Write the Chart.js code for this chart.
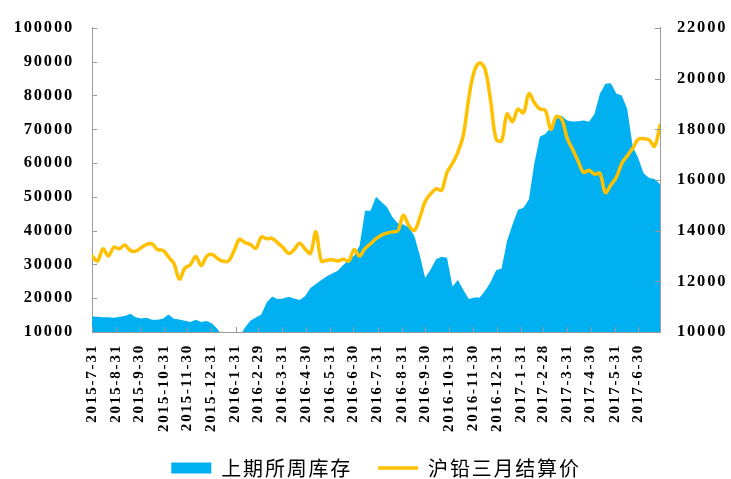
<!DOCTYPE html>
<html>
<head>
<meta charset="utf-8">
<script src="https://cdn.jsdelivr.net/npm/chart.js@4/dist/chart.umd.min.js"></script>
<style>
    html, body { margin: 0; padding: 0; background: #fff; }
    #chart { display: block; }
</style>
</head>
<body>
<canvas id="chart" width="731" height="479"></canvas>
<script>
// weekly dates (SHFE inventory release days)
const weeks = [
    "2015-7-31","2015-8-7","2015-8-14","2015-8-21","2015-8-28","2015-9-4","2015-9-11","2015-9-18","2015-9-25",
    "2015-10-2","2015-10-9","2015-10-16","2015-10-23","2015-10-30","2015-11-6","2015-11-13","2015-11-20","2015-11-27",
    "2015-12-4","2015-12-11","2015-12-18","2015-12-25",
    "2016-1-1","2016-1-8","2016-1-15","2016-1-22","2016-1-29","2016-2-5","2016-2-12","2016-2-19","2016-2-26",
    "2016-3-4","2016-3-11","2016-3-18","2016-3-25","2016-4-1","2016-4-8","2016-4-15","2016-4-22","2016-4-29",
    "2016-5-6","2016-5-13","2016-5-20","2016-5-27","2016-6-3","2016-6-10","2016-6-17","2016-6-24",
    "2016-7-1","2016-7-8","2016-7-15","2016-7-22","2016-7-29","2016-8-5","2016-8-12","2016-8-19","2016-8-26",
    "2016-9-2","2016-9-9","2016-9-16","2016-9-23","2016-9-30","2016-10-7","2016-10-14","2016-10-21","2016-10-28",
    "2016-11-4","2016-11-11","2016-11-18","2016-11-25","2016-12-2","2016-12-9","2016-12-16","2016-12-23","2016-12-30",
    "2017-1-6","2017-1-13","2017-1-20","2017-1-27","2017-2-3","2017-2-10","2017-2-17","2017-2-24",
    "2017-3-3","2017-3-10","2017-3-17","2017-3-24","2017-3-31","2017-4-7","2017-4-14","2017-4-21","2017-4-28",
    "2017-5-5","2017-5-12","2017-5-19","2017-5-26","2017-6-2","2017-6-9","2017-6-16","2017-6-23","2017-6-30",
    "2017-7-7","2017-7-14","2017-7-21","2017-7-28"
];

// 上期所周库存 (left axis)
const stock = [
    14600, 14500, 14400, 14400, 14250, 14500, 14700, 15400, 14400, 14000,
    14200, 13600, 13600, 13900, 15200, 13950, 13700, 13300, 12950, 13650,
    12950, 13250, 12500, 10800, 8500, 7000, 7500, 8500, 11300, 13300,
    14300, 15200, 18800, 20500, 19700, 19900, 20400, 19900, 19500, 20600,
    23000, 24200, 25400, 26500, 27300, 28100, 29800, 31400, 32600, 35500,
    45900, 45900, 50000, 48500, 47000, 44000, 42200, 41800, 41000, 38500,
    32800, 26000, 28500, 31500, 32300, 32000, 23500, 25400, 22400, 19800,
    20200, 20200, 22300, 24800, 28300, 28800, 37000, 41800, 46200, 46800,
    49200, 60000, 67800, 68600, 70500, 73300, 74000, 72600, 72300, 72400,
    72600, 72200, 74500, 80500, 83500, 83600, 80600, 80000, 76000, 65000,
    61500, 57000, 55600, 55300, 53700
];

// 沪铅三月结算价 (right axis)
const price = [
    13000, 12800, 13280, 13000, 13350, 13280, 13430, 13220, 13190, 13330,
    13460, 13480, 13250, 13220, 12960, 12700, 12090, 12520, 12650, 12980,
    12620, 12990, 13060, 12900, 12790, 12800, 13200, 13660, 13530, 13450,
    13300, 13750, 13680, 13690, 13520, 13330, 13100, 13250, 13500, 13280,
    13100, 13950, 12800, 12830, 12850, 12800, 12870, 12800, 13250, 13000,
    13300, 13480, 13680, 13820, 13900, 13950, 13990, 14600, 14200, 14000,
    14500, 15150, 15450, 15650, 15590, 16300, 16650, 17100, 17780, 19250,
    20300, 20620, 20350, 19100, 17600, 17550, 18600, 18300, 18800, 18650,
    19400, 19050, 18800, 18750, 18000, 18500, 18400, 17650, 17200, 16750,
    16300, 16380, 16230, 16260, 15500, 15800, 16100, 16650, 16950, 17250,
    17600, 17630, 17580, 17330, 18150
];

// month-end tick labels of the date axis
const tickDates = [
    "2015-7-31","2015-8-31","2015-9-30","2015-10-31","2015-11-30","2015-12-31",
    "2016-1-31","2016-2-29","2016-3-31","2016-4-30","2016-5-31","2016-6-30",
    "2016-7-31","2016-8-31","2016-9-30","2016-10-31","2016-11-30","2016-12-31",
    "2017-1-31","2017-2-28","2017-3-31","2017-4-30","2017-5-31","2017-6-30"
];

const seriesNames = ["上期所周库存", "沪铅三月结算价"];
const leftTicks = { min: 10000, max: 100000, step: 10000 };
const rightTicks = { min: 10000, max: 22000, step: 2000 };

const BLUE = "#00B0F0";
const GOLD = "#FFC000";
const AXIS = "#9a9a9a";
const SERIF = "'Liberation Serif', 'Times New Roman', serif";

function dayOf(s) {
    const [y, m, d] = s.split("-").map(Number);
    const [y0, m0, d0] = weeks[0].split("-").map(Number);
    return (Date.UTC(y, m - 1, d) - Date.UTC(y0, m0 - 1, d0)) / 86400000;
}

const tickLabelByDay = {};
tickDates.forEach(s => { tickLabelByDay[dayOf(s)] = s; });

// wider glyph spacing, like the original Office rendering
const spacingPlugin = {
    id: "spacing",
    beforeLayout(chart) { chart.ctx.letterSpacing = "1.8px"; },
    beforeDraw(chart) { chart.ctx.letterSpacing = "1.8px"; }
};

// short tick marks pointing into the plot, drawn over the area
const innerTicks = {
    id: "innerTicks",
    afterDatasetsDraw(chart) {
        const { ctx, chartArea: a, scales } = chart;
        ctx.save();
        ctx.strokeStyle = AXIS;
        ctx.lineWidth = 1;
        ctx.beginPath();
        scales.x.ticks.forEach(t => {
            const px = Math.round(scales.x.getPixelForValue(t.value)) + 0.5;
            ctx.moveTo(px, a.bottom);
            ctx.lineTo(px, a.bottom - 5);
        });
        scales.y.ticks.forEach(t => {
            const py = Math.round(scales.y.getPixelForValue(t.value)) + 0.5;
            ctx.moveTo(a.left, py);
            ctx.lineTo(a.left + 5, py);
        });
        scales.y1.ticks.forEach(t => {
            const py = Math.round(scales.y1.getPixelForValue(t.value)) + 0.5;
            ctx.moveTo(a.right, py);
            ctx.lineTo(a.right - 5, py);
        });
        ctx.stroke();
        ctx.restore();
    }
};

function initChart() {
    const ctx = document.getElementById("chart").getContext("2d");
    new Chart(ctx, {
        type: "line",
        data: {
            labels: weeks.map(dayOf),
            datasets: [
                {
                    label: seriesNames[0],
                    data: stock,
                    yAxisID: "y",
                    order: 2,
                    fill: "start",
                    backgroundColor: BLUE,
                    borderColor: BLUE,
                    borderWidth: 0,
                    tension: 0,
                    pointRadius: 0,
                    pointStyle: "rect",
                    clip: 0
                },
                {
                    label: seriesNames[1],
                    data: price,
                    yAxisID: "y1",
                    order: 1,
                    fill: false,
                    backgroundColor: GOLD,
                    borderColor: GOLD,
                    borderWidth: 3.5,
                    tension: 0.35,
                    pointRadius: 0,
                    pointStyle: "line",
                    borderCapStyle: "round",
                    borderJoinStyle: "round"
                }
            ]
        },
        options: {
            responsive: false,
            animation: false,
            devicePixelRatio: 1,
            layout: { padding: { top: 20, left: 0, right: 0, bottom: -9 } },
            scales: {
                x: {
                    type: "linear",
                    z: 1,
                    min: dayOf(weeks[0]),
                    max: dayOf(weeks[weeks.length - 1]),
                    afterBuildTicks: scale => {
                        scale.ticks = tickDates.map(s => ({ value: dayOf(s) }));
                    },
                    afterFit: scale => { scale.height = 100; },
                    grid: { display: false, drawTicks: false },
                    border: { display: true, color: AXIS, width: 1 },
                    ticks: {
                        autoSkip: false,
                        minRotation: 90,
                        maxRotation: 90,
                        padding: 12,
                        color: "#000",
                        font: { family: SERIF, size: 15, weight: "bold" },
                        callback: v => tickLabelByDay[v] || ""
                    }
                },
                y: {
                    type: "linear",
                    position: "left",
                    z: 1,
                    min: leftTicks.min,
                    max: leftTicks.max,
                    afterFit: scale => { scale.width = 92; },
                    grid: { display: false, drawTicks: false },
                    border: { display: true, color: AXIS, width: 1 },
                    ticks: {
                        stepSize: leftTicks.step,
                        padding: 18,
                        color: "#000",
                        font: { family: SERIF, size: 16.5, weight: "bold" },
                        callback: v => String(v)
                    }
                },
                y1: {
                    type: "linear",
                    position: "right",
                    z: 1,
                    min: rightTicks.min,
                    max: rightTicks.max,
                    afterFit: scale => { scale.width = 71; },
                    grid: { display: false, drawTicks: false },
                    border: { display: true, color: AXIS, width: 1 },
                    ticks: {
                        stepSize: rightTicks.step,
                        padding: 17,
                        color: "#000",
                        font: { family: SERIF, size: 16.5, weight: "bold" },
                        callback: v => String(v)
                    }
                }
            },
            plugins: {
                tooltip: { enabled: false },
                legend: {
                    position: "bottom",
                    fullSize: false,
                    labels: {
                        usePointStyle: true,
                        pointStyleWidth: 40,
                        boxHeight: 11,
                        padding: 26,
                        color: "#000",
                        font: { family: "'Noto Sans CJK SC', sans-serif", size: 20 },
                        sort: (a, b) => a.datasetIndex - b.datasetIndex
                    }
                }
            }
        },
        plugins: [spacingPlugin, innerTicks]
    });
}

document.addEventListener("DOMContentLoaded", () => {
    initChart();
});
</script>
</body>
</html>
